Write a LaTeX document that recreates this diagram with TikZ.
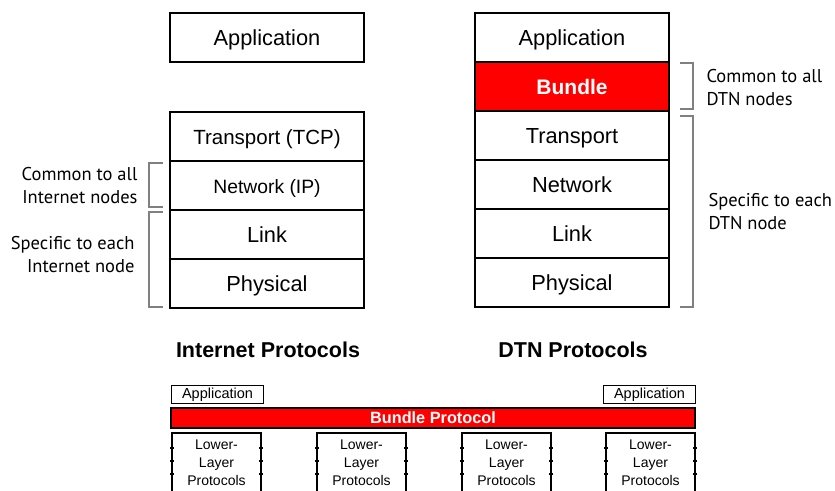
\documentclass[tikz,border=0pt]{standalone}
\usepackage{fontspec}
\setmainfont{Liberation Sans}
\newfontfamily\sidefont{PT Sans}
\usetikzlibrary{positioning}

\begin{document}
\begin{tikzpicture}[x=1pt,y=-1pt,
  layer/.style={rectangle,draw,line width=2pt,outer sep=0pt,inner sep=0pt,
    minimum width=194pt,minimum height=49pt,text height=18.5pt,text depth=2.5pt,
    font=\fontsize{21.8}{24}\selectfont},
  bundle/.style={layer,fill=red,text=white,font=\fontsize{21}{24}\selectfont\bfseries},
  bracket/.style={draw=gray,line width=1.2pt},
  sidenote/.style={font=\sidefont\fontsize{18.5}{23}\selectfont},
  title/.style={font=\fontsize{21.5}{24}\selectfont\bfseries},
  smallbox/.style={rectangle,draw,line width=1.5pt,outer sep=0pt,inner sep=0pt,
    minimum width=92pt,minimum height=18pt,font=\fontsize{14.5}{16}\selectfont},
  lowbox/.style={rectangle,draw,line width=1.5pt,outer sep=0pt,inner sep=0pt,anchor=north,
    minimum width=89pt,minimum height=60pt,align=center,font=\fontsize{14}{18}\selectfont}]

  \useasboundingbox (0,0) rectangle (835,490);

  % Internet stack
  \node[layer] (iapp) at (267,37) {Application};
  \node[layer,font=\fontsize{20.5}{24}\selectfont] (itcp) at (267,136) {Transport (TCP)};
  \node[layer,below=0pt of itcp,font=\fontsize{19.3}{22}\selectfont] (iip) {Network (IP)};
  \node[layer,below=0pt of iip]  (ilink) {Link};
  \node[layer,below=0pt of ilink] (iphy) {Physical};

  % DTN stack
  \node[layer] (dapp) at (572,37) {Application};
  \node[bundle,below=0pt of dapp] (dbun) {Bundle};
  \node[layer,below=0pt of dbun]  (dtrans) {Transport};
  \node[layer,below=0pt of dtrans] (dnet) {Network};
  \node[layer,below=0pt of dnet]  (dlink) {Link};
  \node[layer,below=0pt of dlink] (dphy) {Physical};

  % brackets
  \draw[bracket] (163,163) -- (149,163) -- (149,207) -- (163,207);
  \draw[bracket] (163,212) -- (149,212) -- (149,307) -- (163,307);
  \draw[bracket] (680,63) -- (693,63) -- (693,109) -- (680,109);
  \draw[bracket] (680,116) -- (693,116) -- (693,307) -- (680,307);

  \node[sidenote,align=right,anchor=east] (icommon) at (141,186) {Common to all\\Internet nodes};
  \node[sidenote,align=right,anchor=east] (ispec)   at (138,255) {Specific to each\\Internet node};
  \node[sidenote,align=left,anchor=west]  (dcommon) at (703,88)  {Common to all\\DTN nodes};
  \node[sidenote,align=left,anchor=west]  (dspec)   at (705,212) {Specific to each\\DTN node};

  \node[title] (ititle) at (268,350) {Internet Protocols};
  \node[title] (dtitle) at (573,350) {DTN Protocols};

  % bundle protocol overlay
  \node[smallbox] (app1) at (217.5,394.5) {Application};
  \node[smallbox] (app2) at (649.5,394.5) {Application};
  \node[smallbox,minimum width=524pt,minimum height=20pt,fill=red,text=white,
    font=\fontsize{16.3}{18}\selectfont\bfseries] (bp) at (433,418) {Bundle Protocol};

  \node[lowbox] (low1) at (216.5,433) {Lower-\\Layer\\Protocols};
  \node[lowbox] (low2) at (361.5,433) {Lower-\\Layer\\Protocols};
  \node[lowbox] (low3) at (506.5,433) {Lower-\\Layer\\Protocols};
  \node[lowbox] (low4) at (650.5,433) {Lower-\\Layer\\Protocols};

  \foreach \b in {low1,low2,low3,low4}
    \foreach \d in {15,28,41} {
      \draw[line width=1.2pt] ([yshift=-\d pt]\b.north west) ++(-2,0) -- ++(4,0);
      \draw[line width=1.2pt] ([yshift=-\d pt]\b.north east) ++(-2,0) -- ++(4,0);
    }

\end{tikzpicture}
\end{document}
